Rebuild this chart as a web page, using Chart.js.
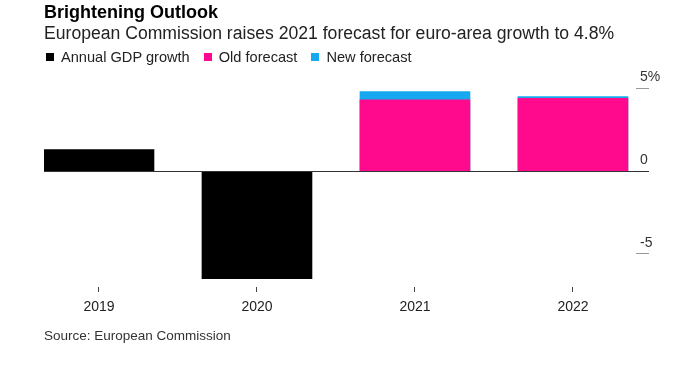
<!DOCTYPE html>
<html>
<head>
<meta charset="utf-8">
<script src="https://cdn.jsdelivr.net/npm/chart.js@4/dist/chart.umd.min.js"></script>
<style>
  body { margin: 0; background: #fff; font-family: "Liberation Sans", Arial, sans-serif; }
  #wrap { position: relative; width: 688px; height: 367px; overflow: hidden; }
  #chart { position: absolute; left: 0; top: 0; }
  .title { position: absolute; left: 44px; top: 2px; font-size: 18px; font-weight: bold; color: #000; }
  .sub { position: absolute; left: 44px; top: 23px; font-size: 17.6px; color: #222; }
  .legend { position: absolute; left: 46px; top: 49px; font-size: 14.6px; color: #222; display: flex; }
  .legend span { display: inline-flex; align-items: center; margin-right: 14px; }
  .legend i { display: inline-block; width: 8px; height: 8px; margin-right: 7px; }
  .source { position: absolute; left: 44px; top: 328px; font-size: 13.5px; color: #333; }
</style>
</head>
<body>
<div id="wrap">
  <canvas id="chart" width="688" height="367"></canvas>
  <div class="title">Brightening Outlook</div>
  <div class="sub">European Commission raises 2021 forecast for euro-area growth to 4.8%</div>
  <div class="legend" id="legend"></div>
  <div class="source">Source: European Commission</div>
</div>
<script>
var years = [2019, 2020, 2021, 2022];
var gdpGrowth = [1.3, -6.5, null, null];
var oldForecast = [null, null, 4.3, 4.4];
var newForecast = [null, null, 4.8, 4.5];
var yTicks = [-5, 0, 5];

var seriesNames = ["Annual GDP growth", "Old forecast", "New forecast"];
var seriesColors = ["#000000", "#ff0a8c", "#16a9f0"];

// legende en html
var legendEl = document.getElementById("legend");
seriesNames.forEach(function (name, i) {
  var s = document.createElement("span");
  s.innerHTML = '<i style="background:' + seriesColors[i] + '"></i>' + name;
  legendEl.appendChild(s);
});

function toPoints(values) {
  return years.map(function (y, i) {
    return { x: y, y: values[i] };
  });
}

var ctx = document.getElementById("chart").getContext("2d");
var chart = new Chart(ctx, {
  type: "bar",
  data: {
    datasets: [
      { label: seriesNames[0], data: toPoints(gdpGrowth), backgroundColor: seriesColors[0] },
      { label: seriesNames[1], data: toPoints(oldForecast), backgroundColor: seriesColors[1] },
      { label: seriesNames[2], data: toPoints(newForecast), backgroundColor: seriesColors[2] },
    ],
  },
  options: {
    responsive: false,
    animation: false,
    grouped: false,
    barThickness: 110,
    layout: { padding: { left: 44, top: 80, right: 0, bottom: 52 } },
    plugins: { legend: { display: false }, tooltip: { enabled: false } },
    scales: {
      x: {
        type: "linear",
        offset: false,
        min: 2018.652,
        max: 2022.399,
        afterFit: function (scale) { scale.height = 28; },
        border: { display: false },
        grid: { offset: false, drawOnChartArea: false, drawTicks: true, tickLength: 5, tickColor: "#444" },
        ticks: {
          stepSize: 1,
          includeBounds: false,
          padding: 7,
          color: "#222",
          font: { family: "Liberation Sans", size: 14 },
          callback: function (v) { return years.indexOf(v) >= 0 ? String(v) : ""; },
        },
      },
      y: {
        position: "right",
        min: -7,
        max: 5.5,
        afterFit: function (scale) { scale.width = 52; },
        afterBuildTicks: function (scale) {
          scale.ticks = yTicks.map(function (v) { return { value: v }; });
        },
        border: { display: false },
        grid: {
          drawTicks: true,
          tickLength: 13,
          color: function (c) { return c.tick && c.tick.value === 0 ? "#333" : "rgba(0,0,0,0)"; },
          tickColor: function (c) { return c.tick && c.tick.value === 0 ? "#333" : "#999"; },
          lineWidth: 1,
          z: 1,
        },
        ticks: {
          padding: -9,
          labelOffset: -11,
          color: "#333",
          font: { family: "Liberation Sans", size: 14 },
          callback: function (v) { return v === 5 ? "5%" : String(v); },
        },
      },
    },
  },
});
</script>
</body>
</html>
